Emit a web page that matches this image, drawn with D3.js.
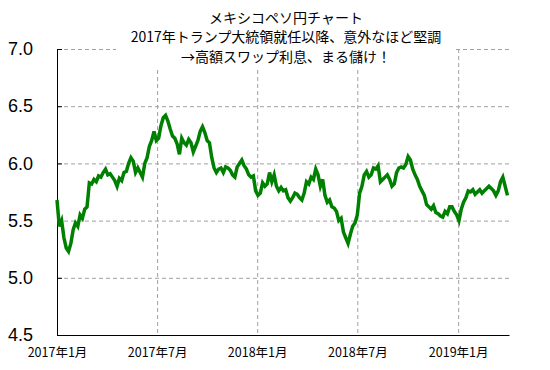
<!DOCTYPE html>
<html>
<head>
<meta charset="utf-8">
<script src="https://cdn.jsdelivr.net/npm/d3@7"></script>
<style>
body { margin: 0; background: #fff; }
.grid line { stroke: #a0a0a0; stroke-dasharray: 4,3; }
.grid path { display: none; }
.axis path, .axis line { stroke: #000; }
</style>
</head>
<body>
<svg width="550" height="370"></svg>
<script>

// MXN/JPY, one reading every 3 trading days from 2017-01-02
var values = [
  5.68, 5.45, 5.50, 5.35, 5.26, 5.23, 5.30, 5.42, 5.48, 5.45, 5.55, 5.52, 5.60, 5.62,
  5.83, 5.82, 5.86, 5.84, 5.89, 5.88, 5.92, 5.95, 5.90, 5.91, 5.88, 5.85, 5.80, 5.87,
  5.85, 5.92, 5.93, 6.00, 6.05, 6.02, 5.92, 5.96, 5.92, 5.88, 6.00, 6.05,
  6.15, 6.20, 6.28, 6.20, 6.22, 6.33, 6.40, 6.42, 6.37, 6.30, 6.24, 6.22, 6.17, 6.08,
  6.22, 6.18, 6.16, 6.21, 6.18, 6.10, 6.15, 6.20, 6.28, 6.32, 6.27, 6.20, 6.18,
  6.05, 5.96, 5.92, 5.95, 5.96, 5.92, 5.97, 5.96, 5.94, 5.90, 5.88, 5.97, 6.00, 6.03,
  5.98, 5.95, 5.90, 5.88, 5.89, 5.76, 5.72, 5.74, 5.83, 5.80, 5.82, 5.92,
  5.84, 5.90, 5.80, 5.76, 5.79, 5.76, 5.77, 5.70, 5.67, 5.70, 5.74, 5.73, 5.70, 5.68,
  5.74, 5.84, 5.82, 5.88, 5.86, 5.95, 5.90, 5.80, 5.86, 5.72, 5.66, 5.68, 5.62,
  5.61, 5.58, 5.50, 5.52, 5.40, 5.35, 5.30, 5.38, 5.45, 5.48, 5.55, 5.74, 5.80, 5.90,
  5.93, 5.88, 5.90, 5.96, 5.95, 5.98, 5.84, 5.86, 5.88, 5.90, 5.86, 5.80,
  5.82, 5.92, 5.96, 5.97, 5.96, 5.99, 6.06, 6.03, 5.95, 5.90, 5.86, 5.80, 5.76, 5.72,
  5.64, 5.62, 5.60, 5.63, 5.57, 5.56, 5.54, 5.53, 5.58, 5.56, 5.62, 5.62, 5.58,
  5.55, 5.50, 5.60, 5.66, 5.70, 5.76, 5.75, 5.77, 5.73, 5.75, 5.77, 5.74, 5.76, 5.78,
  5.80, 5.78, 5.76, 5.72, 5.76, 5.84, 5.88, 5.80, 5.72
];

var tickMonths = ["2017-01", "2017-07", "2018-01", "2018-07", "2019-01"];
var tickLabels = ["2017年1月", "2017年7月", "2018年1月", "2018年7月", "2019年1月"];
var yTicks = [4.5, 5.0, 5.5, 6.0, 6.5, 7.0];
var titleLines = ["メキシコペソ円チャート", "2017年トランプ大統領就任以降、意外なほど堅調", "→高額スワップ利息、まる儲け！"];

var step = 3,
    lastDay = 587;

// trading days (weekdays) from the first data date
var tradingDays = [];
var d = new Date(2017, 0, 2);
while (tradingDays.length <= lastDay + 5) {
  if (d.getDay() != 0 && d.getDay() != 6) tradingDays.push(new Date(d));
  d = d3.timeDay.offset(d, 1);
}
var fmtMonth = d3.timeFormat("%Y-%m");

var data = values.map(function(v, k) {
  return { idx: k * step, date: tradingDays[k * step], value: v };
});

var tickIdx = tickMonths.map(function(m) {
  return tradingDays.findIndex(function(t) { return fmtMonth(t) == m; });
});

var svg = d3.select("svg"),
    margin = {top: 49, right: 41, bottom: 35, left: 57},
    width = +svg.attr("width") - margin.left - margin.right,
    height = +svg.attr("height") - margin.top - margin.bottom,
    g = svg.append("g").attr("transform", "translate(" + margin.left + "," + margin.top + ")");

var x = d3.scaleLinear().domain([0, lastDay]).range([0, width]);
var y = d3.scaleLinear().domain([4.5, 7.0]).range([height, 0]);

// grid
g.append("g")
    .attr("class", "grid")
    .call(d3.axisLeft(y).tickValues(yTicks.slice(1)).tickSize(-width).tickFormat(""));

g.append("g")
    .attr("class", "grid")
    .call(d3.axisBottom(x).tickValues(tickIdx.slice(1)).tickSize(height).tickFormat(""));

// title box covers the grid
var tb = g.append("g").attr("transform", "translate(" + (width / 2 + 3) + ",0)");
tb.append("rect")
    .attr("x", -170).attr("y", -margin.top)
    .attr("width", 340).attr("height", margin.top + 19)
    .attr("fill", "#fff");
tb.selectAll("text")
    .data(titleLines)
  .enter().append("text")
    .attr("text-anchor", "middle")
    .attr("y", function(t, i) { return -31 + i * 19.5; })
    .attr("dy", "0.35em")
    .style("font-family", "'Noto Sans CJK JP', sans-serif")
    .style("font-size", "14px")
    .text(function(t) { return t; });

// axes
g.append("g")
    .attr("class", "axis")
    .call(d3.axisLeft(y).tickValues(yTicks).tickSize(-5).tickSizeOuter(0).tickPadding(24)
      .tickFormat(d3.format(".1f")))
    .selectAll("text")
    .style("font-family", "'Liberation Sans', Arial, sans-serif")
    .style("font-size", "18px")
    .attr("fill", "#000");

g.append("g")
    .attr("class", "axis")
    .attr("transform", "translate(0," + height + ")")
    .call(d3.axisBottom(x).tickValues(tickIdx).tickSize(0).tickSizeOuter(0).tickPadding(13)
      .tickFormat(function(t, i) { return tickLabels[i]; }))
    .selectAll("text")
    .style("font-family", "'Noto Sans CJK JP', sans-serif")
    .style("font-size", "12.5px")
    .attr("fill", "#000");

var line = d3.line()
    .x(function(d) { return x(d.idx); })
    .y(function(d) { return y(d.value); });

g.append("path")
    .datum(data)
    .attr("fill", "none")
    .attr("stroke", "#008000")
    .attr("stroke-width", 3.5)
    .attr("d", line);

</script>
</body>
</html>
